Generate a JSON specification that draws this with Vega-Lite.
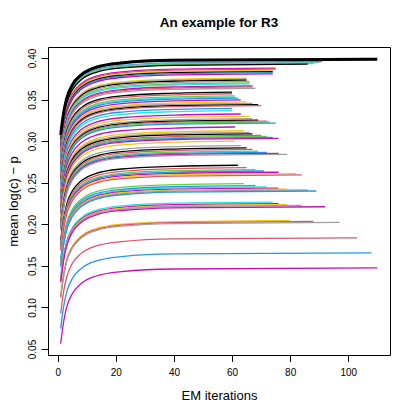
{
"$schema": "https://vega.github.io/schema/vega-lite/v6.json",
"width": 342, "height": 308,
"autosize": "none",
"padding": {"left": 48, "top": 47, "right": 25, "bottom": 60},
"background": "white",
"config": {"view": {"stroke": "black", "strokeWidth": 1}, "font": "Liberation Sans"},
"title": {"text": "An example for R3", "font": "Liberation Sans", "fontSize": 13.5, "fontWeight": "bold", "anchor": "middle", "frame": "group", "baseline": "alphabetic", "offset": 7, "color": "black"},
"data": {"values": [
{"r":1,"x":1,"y":0.3075},{"r":1,"x":2,"y":0.3335},{"r":1,"x":3,"y":0.3505},{"r":1,"x":5,"y":0.3675},{"r":1,"x":8,"y":0.3795},{"r":1,"x":13,"y":0.3885},{"r":1,"x":22,"y":0.3940},{"r":1,"x":40,"y":0.3972},{"r":1,"x":110,"y":0.3985},
{"r":2,"x":1,"y":0.3085},{"r":2,"x":2,"y":0.3345},{"r":2,"x":3,"y":0.3515},{"r":2,"x":5,"y":0.3685},{"r":2,"x":8,"y":0.3805},{"r":2,"x":13,"y":0.3895},{"r":2,"x":22,"y":0.3950},{"r":2,"x":40,"y":0.3982},{"r":2,"x":109,"y":0.3995},
{"r":3,"x":1,"y":0.3045},{"r":3,"x":2,"y":0.3305},{"r":3,"x":3,"y":0.3475},{"r":3,"x":5,"y":0.3645},{"r":3,"x":8,"y":0.3765},{"r":3,"x":13,"y":0.3855},{"r":3,"x":22,"y":0.3910},{"r":3,"x":40,"y":0.3942},{"r":3,"x":91,"y":0.3955},
{"r":4,"x":1,"y":0.3038},{"r":4,"x":2,"y":0.3298},{"r":4,"x":3,"y":0.3468},{"r":4,"x":5,"y":0.3638},{"r":4,"x":8,"y":0.3758},{"r":4,"x":13,"y":0.3848},{"r":4,"x":22,"y":0.3903},{"r":4,"x":40,"y":0.3935},{"r":4,"x":90,"y":0.3948},
{"r":5,"x":1,"y":0.3030},{"r":5,"x":2,"y":0.3290},{"r":5,"x":3,"y":0.3460},{"r":5,"x":5,"y":0.3630},{"r":5,"x":8,"y":0.3750},{"r":5,"x":13,"y":0.3840},{"r":5,"x":22,"y":0.3895},{"r":5,"x":40,"y":0.3927},{"r":5,"x":89,"y":0.3940},
{"r":6,"x":1,"y":0.3023},{"r":6,"x":2,"y":0.3283},{"r":6,"x":3,"y":0.3453},{"r":6,"x":5,"y":0.3623},{"r":6,"x":8,"y":0.3743},{"r":6,"x":13,"y":0.3833},{"r":6,"x":22,"y":0.3888},{"r":6,"x":40,"y":0.3920},{"r":6,"x":88,"y":0.3933},
{"r":7,"x":1,"y":0.3015},{"r":7,"x":2,"y":0.3275},{"r":7,"x":3,"y":0.3445},{"r":7,"x":5,"y":0.3615},{"r":7,"x":8,"y":0.3735},{"r":7,"x":13,"y":0.3825},{"r":7,"x":22,"y":0.3880},{"r":7,"x":40,"y":0.3912},{"r":7,"x":86,"y":0.3925},
{"r":8,"x":1,"y":0.2968},{"r":8,"x":2,"y":0.3228},{"r":8,"x":3,"y":0.3398},{"r":8,"x":5,"y":0.3568},{"r":8,"x":8,"y":0.3688},{"r":8,"x":13,"y":0.3778},{"r":8,"x":22,"y":0.3833},{"r":8,"x":40,"y":0.3865},{"r":8,"x":75,"y":0.3878},
{"r":9,"x":1,"y":0.2956},{"r":9,"x":2,"y":0.3216},{"r":9,"x":3,"y":0.3386},{"r":9,"x":5,"y":0.3556},{"r":9,"x":8,"y":0.3676},{"r":9,"x":13,"y":0.3766},{"r":9,"x":22,"y":0.3821},{"r":9,"x":40,"y":0.3853},{"r":9,"x":75,"y":0.3866},
{"r":10,"x":1,"y":0.2940},{"r":10,"x":2,"y":0.3200},{"r":10,"x":3,"y":0.3370},{"r":10,"x":5,"y":0.3540},{"r":10,"x":8,"y":0.3660},{"r":10,"x":13,"y":0.3750},{"r":10,"x":22,"y":0.3805},{"r":10,"x":40,"y":0.3837},{"r":10,"x":74,"y":0.3850},
{"r":11,"x":1,"y":0.2927},{"r":11,"x":2,"y":0.3187},{"r":11,"x":3,"y":0.3357},{"r":11,"x":5,"y":0.3527},{"r":11,"x":8,"y":0.3647},{"r":11,"x":13,"y":0.3737},{"r":11,"x":22,"y":0.3792},{"r":11,"x":40,"y":0.3824},{"r":11,"x":74,"y":0.3837},
{"r":12,"x":1,"y":0.2915},{"r":12,"x":2,"y":0.3175},{"r":12,"x":3,"y":0.3345},{"r":12,"x":5,"y":0.3515},{"r":12,"x":8,"y":0.3635},{"r":12,"x":13,"y":0.3725},{"r":12,"x":22,"y":0.3780},{"r":12,"x":40,"y":0.3812},{"r":12,"x":74,"y":0.3825},
{"r":13,"x":1,"y":0.2900},{"r":13,"x":2,"y":0.3160},{"r":13,"x":3,"y":0.3330},{"r":13,"x":5,"y":0.3500},{"r":13,"x":8,"y":0.3620},{"r":13,"x":13,"y":0.3710},{"r":13,"x":22,"y":0.3765},{"r":13,"x":40,"y":0.3797},{"r":13,"x":74,"y":0.3810},
{"r":14,"x":1,"y":0.2847},{"r":14,"x":2,"y":0.3107},{"r":14,"x":3,"y":0.3277},{"r":14,"x":5,"y":0.3447},{"r":14,"x":8,"y":0.3567},{"r":14,"x":13,"y":0.3657},{"r":14,"x":22,"y":0.3712},{"r":14,"x":40,"y":0.3744},{"r":14,"x":65,"y":0.3757},
{"r":15,"x":1,"y":0.2835},{"r":15,"x":2,"y":0.3095},{"r":15,"x":3,"y":0.3265},{"r":15,"x":5,"y":0.3435},{"r":15,"x":8,"y":0.3555},{"r":15,"x":13,"y":0.3645},{"r":15,"x":22,"y":0.3700},{"r":15,"x":40,"y":0.3732},{"r":15,"x":65,"y":0.3745},
{"r":16,"x":1,"y":0.2823},{"r":16,"x":2,"y":0.3083},{"r":16,"x":3,"y":0.3253},{"r":16,"x":5,"y":0.3423},{"r":16,"x":8,"y":0.3543},{"r":16,"x":13,"y":0.3633},{"r":16,"x":22,"y":0.3688},{"r":16,"x":40,"y":0.3720},{"r":16,"x":65,"y":0.3733},
{"r":17,"x":1,"y":0.2808},{"r":17,"x":2,"y":0.3068},{"r":17,"x":3,"y":0.3238},{"r":17,"x":5,"y":0.3408},{"r":17,"x":8,"y":0.3528},{"r":17,"x":13,"y":0.3618},{"r":17,"x":22,"y":0.3673},{"r":17,"x":40,"y":0.3705},{"r":17,"x":66,"y":0.3718},
{"r":18,"x":1,"y":0.2790},{"r":18,"x":2,"y":0.3050},{"r":18,"x":3,"y":0.3220},{"r":18,"x":5,"y":0.3390},{"r":18,"x":8,"y":0.3510},{"r":18,"x":13,"y":0.3600},{"r":18,"x":22,"y":0.3655},{"r":18,"x":40,"y":0.3687},{"r":18,"x":66,"y":0.3700},
{"r":19,"x":1,"y":0.2778},{"r":19,"x":2,"y":0.3038},{"r":19,"x":3,"y":0.3208},{"r":19,"x":5,"y":0.3378},{"r":19,"x":8,"y":0.3498},{"r":19,"x":13,"y":0.3588},{"r":19,"x":22,"y":0.3643},{"r":19,"x":40,"y":0.3675},{"r":19,"x":66,"y":0.3688},
{"r":20,"x":1,"y":0.2755},{"r":20,"x":2,"y":0.3015},{"r":20,"x":3,"y":0.3185},{"r":20,"x":5,"y":0.3355},{"r":20,"x":8,"y":0.3475},{"r":20,"x":13,"y":0.3565},{"r":20,"x":22,"y":0.3620},{"r":20,"x":40,"y":0.3652},{"r":20,"x":67,"y":0.3665},
{"r":21,"x":1,"y":0.2742},{"r":21,"x":2,"y":0.3002},{"r":21,"x":3,"y":0.3172},{"r":21,"x":5,"y":0.3342},{"r":21,"x":8,"y":0.3462},{"r":21,"x":13,"y":0.3552},{"r":21,"x":22,"y":0.3607},{"r":21,"x":40,"y":0.3639},{"r":21,"x":67,"y":0.3652},
{"r":22,"x":1,"y":0.2726},{"r":22,"x":2,"y":0.2986},{"r":22,"x":3,"y":0.3156},{"r":22,"x":5,"y":0.3326},{"r":22,"x":8,"y":0.3446},{"r":22,"x":13,"y":0.3536},{"r":22,"x":22,"y":0.3591},{"r":22,"x":40,"y":0.3623},{"r":22,"x":68,"y":0.3636},
{"r":23,"x":1,"y":0.2680},{"r":23,"x":2,"y":0.2940},{"r":23,"x":3,"y":0.3110},{"r":23,"x":5,"y":0.3280},{"r":23,"x":8,"y":0.3400},{"r":23,"x":13,"y":0.3490},{"r":23,"x":22,"y":0.3545},{"r":23,"x":40,"y":0.3577},{"r":23,"x":60,"y":0.3590},
{"r":24,"x":1,"y":0.2660},{"r":24,"x":2,"y":0.2920},{"r":24,"x":3,"y":0.3090},{"r":24,"x":5,"y":0.3260},{"r":24,"x":8,"y":0.3380},{"r":24,"x":13,"y":0.3470},{"r":24,"x":22,"y":0.3525},{"r":24,"x":40,"y":0.3557},{"r":24,"x":60,"y":0.3570},
{"r":25,"x":1,"y":0.2635},{"r":25,"x":2,"y":0.2895},{"r":25,"x":3,"y":0.3065},{"r":25,"x":5,"y":0.3235},{"r":25,"x":8,"y":0.3355},{"r":25,"x":13,"y":0.3445},{"r":25,"x":22,"y":0.3500},{"r":25,"x":40,"y":0.3532},{"r":25,"x":61,"y":0.3545},
{"r":26,"x":1,"y":0.2620},{"r":26,"x":2,"y":0.2880},{"r":26,"x":3,"y":0.3050},{"r":26,"x":5,"y":0.3220},{"r":26,"x":8,"y":0.3340},{"r":26,"x":13,"y":0.3430},{"r":26,"x":22,"y":0.3485},{"r":26,"x":40,"y":0.3517},{"r":26,"x":61,"y":0.3530},
{"r":27,"x":1,"y":0.2608},{"r":27,"x":2,"y":0.2868},{"r":27,"x":3,"y":0.3038},{"r":27,"x":5,"y":0.3208},{"r":27,"x":8,"y":0.3328},{"r":27,"x":13,"y":0.3418},{"r":27,"x":22,"y":0.3473},{"r":27,"x":40,"y":0.3505},{"r":27,"x":62,"y":0.3518},
{"r":28,"x":1,"y":0.2587},{"r":28,"x":2,"y":0.2847},{"r":28,"x":3,"y":0.3017},{"r":28,"x":5,"y":0.3187},{"r":28,"x":8,"y":0.3307},{"r":28,"x":13,"y":0.3397},{"r":28,"x":22,"y":0.3452},{"r":28,"x":40,"y":0.3484},{"r":28,"x":63,"y":0.3497},
{"r":29,"x":1,"y":0.2562},{"r":29,"x":2,"y":0.2822},{"r":29,"x":3,"y":0.2992},{"r":29,"x":5,"y":0.3162},{"r":29,"x":8,"y":0.3282},{"r":29,"x":13,"y":0.3372},{"r":29,"x":22,"y":0.3427},{"r":29,"x":40,"y":0.3459},{"r":29,"x":65,"y":0.3472},
{"r":30,"x":1,"y":0.2545},{"r":30,"x":2,"y":0.2805},{"r":30,"x":3,"y":0.2975},{"r":30,"x":5,"y":0.3145},{"r":30,"x":8,"y":0.3265},{"r":30,"x":13,"y":0.3355},{"r":30,"x":22,"y":0.3410},{"r":30,"x":40,"y":0.3442},{"r":30,"x":67,"y":0.3455},
{"r":31,"x":1,"y":0.2530},{"r":31,"x":2,"y":0.2790},{"r":31,"x":3,"y":0.2960},{"r":31,"x":5,"y":0.3130},{"r":31,"x":8,"y":0.3250},{"r":31,"x":13,"y":0.3340},{"r":31,"x":22,"y":0.3395},{"r":31,"x":40,"y":0.3427},{"r":31,"x":69,"y":0.3440},
{"r":32,"x":1,"y":0.2517},{"r":32,"x":2,"y":0.2777},{"r":32,"x":3,"y":0.2947},{"r":32,"x":5,"y":0.3117},{"r":32,"x":8,"y":0.3237},{"r":32,"x":13,"y":0.3327},{"r":32,"x":22,"y":0.3382},{"r":32,"x":40,"y":0.3414},{"r":32,"x":70,"y":0.3427},
{"r":33,"x":1,"y":0.2485},{"r":33,"x":2,"y":0.2745},{"r":33,"x":3,"y":0.2915},{"r":33,"x":5,"y":0.3085},{"r":33,"x":8,"y":0.3205},{"r":33,"x":13,"y":0.3295},{"r":33,"x":22,"y":0.3350},{"r":33,"x":40,"y":0.3382},{"r":33,"x":60,"y":0.3395},
{"r":34,"x":1,"y":0.2457},{"r":34,"x":2,"y":0.2717},{"r":34,"x":3,"y":0.2887},{"r":34,"x":5,"y":0.3057},{"r":34,"x":8,"y":0.3177},{"r":34,"x":13,"y":0.3267},{"r":34,"x":22,"y":0.3322},{"r":34,"x":40,"y":0.3354},{"r":34,"x":60,"y":0.3367},
{"r":35,"x":1,"y":0.2416},{"r":35,"x":2,"y":0.2676},{"r":35,"x":3,"y":0.2846},{"r":35,"x":5,"y":0.3016},{"r":35,"x":8,"y":0.3136},{"r":35,"x":13,"y":0.3226},{"r":35,"x":22,"y":0.3281},{"r":35,"x":40,"y":0.3313},{"r":35,"x":63,"y":0.3326},
{"r":36,"x":1,"y":0.2388},{"r":36,"x":2,"y":0.2648},{"r":36,"x":3,"y":0.2818},{"r":36,"x":5,"y":0.2988},{"r":36,"x":8,"y":0.3108},{"r":36,"x":13,"y":0.3198},{"r":36,"x":22,"y":0.3253},{"r":36,"x":40,"y":0.3285},{"r":36,"x":66,"y":0.3298},
{"r":37,"x":1,"y":0.2360},{"r":37,"x":2,"y":0.2620},{"r":37,"x":3,"y":0.2790},{"r":37,"x":5,"y":0.2960},{"r":37,"x":8,"y":0.3080},{"r":37,"x":13,"y":0.3170},{"r":37,"x":22,"y":0.3225},{"r":37,"x":40,"y":0.3257},{"r":37,"x":67,"y":0.3270},
{"r":38,"x":1,"y":0.2343},{"r":38,"x":2,"y":0.2603},{"r":38,"x":3,"y":0.2773},{"r":38,"x":5,"y":0.2943},{"r":38,"x":8,"y":0.3063},{"r":38,"x":13,"y":0.3153},{"r":38,"x":22,"y":0.3208},{"r":38,"x":40,"y":0.3240},{"r":38,"x":69,"y":0.3253},
{"r":39,"x":1,"y":0.2331},{"r":39,"x":2,"y":0.2591},{"r":39,"x":3,"y":0.2761},{"r":39,"x":5,"y":0.2931},{"r":39,"x":8,"y":0.3051},{"r":39,"x":13,"y":0.3141},{"r":39,"x":22,"y":0.3196},{"r":39,"x":40,"y":0.3228},{"r":39,"x":72,"y":0.3241},
{"r":40,"x":1,"y":0.2320},{"r":40,"x":2,"y":0.2580},{"r":40,"x":3,"y":0.2750},{"r":40,"x":5,"y":0.2920},{"r":40,"x":8,"y":0.3040},{"r":40,"x":13,"y":0.3130},{"r":40,"x":22,"y":0.3185},{"r":40,"x":40,"y":0.3217},{"r":40,"x":73,"y":0.3230},
{"r":41,"x":1,"y":0.2307},{"r":41,"x":2,"y":0.2567},{"r":41,"x":3,"y":0.2737},{"r":41,"x":5,"y":0.2907},{"r":41,"x":8,"y":0.3027},{"r":41,"x":13,"y":0.3117},{"r":41,"x":22,"y":0.3172},{"r":41,"x":40,"y":0.3204},{"r":41,"x":75,"y":0.3217},
{"r":42,"x":1,"y":0.2260},{"r":42,"x":2,"y":0.2520},{"r":42,"x":3,"y":0.2690},{"r":42,"x":5,"y":0.2860},{"r":42,"x":8,"y":0.2980},{"r":42,"x":13,"y":0.3070},{"r":42,"x":22,"y":0.3125},{"r":42,"x":40,"y":0.3157},{"r":42,"x":61,"y":0.3170},
{"r":43,"x":1,"y":0.2215},{"r":43,"x":2,"y":0.2475},{"r":43,"x":3,"y":0.2645},{"r":43,"x":5,"y":0.2815},{"r":43,"x":8,"y":0.2935},{"r":43,"x":13,"y":0.3025},{"r":43,"x":22,"y":0.3080},{"r":43,"x":40,"y":0.3112},{"r":43,"x":64,"y":0.3125},
{"r":44,"x":1,"y":0.2195},{"r":44,"x":2,"y":0.2455},{"r":44,"x":3,"y":0.2625},{"r":44,"x":5,"y":0.2795},{"r":44,"x":8,"y":0.2915},{"r":44,"x":13,"y":0.3005},{"r":44,"x":22,"y":0.3060},{"r":44,"x":40,"y":0.3092},{"r":44,"x":66,"y":0.3105},
{"r":45,"x":1,"y":0.2178},{"r":45,"x":2,"y":0.2438},{"r":45,"x":3,"y":0.2608},{"r":45,"x":5,"y":0.2778},{"r":45,"x":8,"y":0.2898},{"r":45,"x":13,"y":0.2988},{"r":45,"x":22,"y":0.3043},{"r":45,"x":40,"y":0.3075},{"r":45,"x":67,"y":0.3088},
{"r":46,"x":1,"y":0.2158},{"r":46,"x":2,"y":0.2418},{"r":46,"x":3,"y":0.2588},{"r":46,"x":5,"y":0.2758},{"r":46,"x":8,"y":0.2878},{"r":46,"x":13,"y":0.2968},{"r":46,"x":22,"y":0.3023},{"r":46,"x":40,"y":0.3055},{"r":46,"x":70,"y":0.3068},
{"r":47,"x":1,"y":0.2146},{"r":47,"x":2,"y":0.2406},{"r":47,"x":3,"y":0.2576},{"r":47,"x":5,"y":0.2746},{"r":47,"x":8,"y":0.2866},{"r":47,"x":13,"y":0.2956},{"r":47,"x":22,"y":0.3011},{"r":47,"x":40,"y":0.3043},{"r":47,"x":72,"y":0.3056},
{"r":48,"x":1,"y":0.2134},{"r":48,"x":2,"y":0.2394},{"r":48,"x":3,"y":0.2564},{"r":48,"x":5,"y":0.2734},{"r":48,"x":8,"y":0.2854},{"r":48,"x":13,"y":0.2944},{"r":48,"x":22,"y":0.2999},{"r":48,"x":40,"y":0.3031},{"r":48,"x":74,"y":0.3044},
{"r":49,"x":1,"y":0.2122},{"r":49,"x":2,"y":0.2382},{"r":49,"x":3,"y":0.2552},{"r":49,"x":5,"y":0.2722},{"r":49,"x":8,"y":0.2842},{"r":49,"x":13,"y":0.2932},{"r":49,"x":22,"y":0.2987},{"r":49,"x":40,"y":0.3019},{"r":49,"x":76,"y":0.3032},
{"r":50,"x":1,"y":0.2090},{"r":50,"x":2,"y":0.2350},{"r":50,"x":3,"y":0.2520},{"r":50,"x":5,"y":0.2690},{"r":50,"x":8,"y":0.2810},{"r":50,"x":13,"y":0.2900},{"r":50,"x":22,"y":0.2955},{"r":50,"x":40,"y":0.2987},{"r":50,"x":61,"y":0.3000},
{"r":51,"x":1,"y":0.2036},{"r":51,"x":2,"y":0.2296},{"r":51,"x":3,"y":0.2466},{"r":51,"x":5,"y":0.2636},{"r":51,"x":8,"y":0.2756},{"r":51,"x":13,"y":0.2846},{"r":51,"x":22,"y":0.2901},{"r":51,"x":40,"y":0.2933},{"r":51,"x":63,"y":0.2946},
{"r":52,"x":1,"y":0.2008},{"r":52,"x":2,"y":0.2268},{"r":52,"x":3,"y":0.2438},{"r":52,"x":5,"y":0.2608},{"r":52,"x":8,"y":0.2728},{"r":52,"x":13,"y":0.2818},{"r":52,"x":22,"y":0.2873},{"r":52,"x":40,"y":0.2905},{"r":52,"x":65,"y":0.2918},
{"r":53,"x":1,"y":0.1990},{"r":53,"x":2,"y":0.2250},{"r":53,"x":3,"y":0.2420},{"r":53,"x":5,"y":0.2590},{"r":53,"x":8,"y":0.2710},{"r":53,"x":13,"y":0.2800},{"r":53,"x":22,"y":0.2855},{"r":53,"x":40,"y":0.2887},{"r":53,"x":67,"y":0.2900},
{"r":54,"x":1,"y":0.1970},{"r":54,"x":2,"y":0.2230},{"r":54,"x":3,"y":0.2400},{"r":54,"x":5,"y":0.2570},{"r":54,"x":8,"y":0.2690},{"r":54,"x":13,"y":0.2780},{"r":54,"x":22,"y":0.2835},{"r":54,"x":40,"y":0.2867},{"r":54,"x":69,"y":0.2880},
{"r":55,"x":1,"y":0.1955},{"r":55,"x":2,"y":0.2215},{"r":55,"x":3,"y":0.2385},{"r":55,"x":5,"y":0.2555},{"r":55,"x":8,"y":0.2675},{"r":55,"x":13,"y":0.2765},{"r":55,"x":22,"y":0.2820},{"r":55,"x":40,"y":0.2852},{"r":55,"x":72,"y":0.2865},
{"r":56,"x":1,"y":0.1942},{"r":56,"x":2,"y":0.2202},{"r":56,"x":3,"y":0.2372},{"r":56,"x":5,"y":0.2542},{"r":56,"x":8,"y":0.2662},{"r":56,"x":13,"y":0.2752},{"r":56,"x":22,"y":0.2807},{"r":56,"x":40,"y":0.2839},{"r":56,"x":76,"y":0.2852},
{"r":57,"x":1,"y":0.1930},{"r":57,"x":2,"y":0.2190},{"r":57,"x":3,"y":0.2360},{"r":57,"x":5,"y":0.2530},{"r":57,"x":8,"y":0.2650},{"r":57,"x":13,"y":0.2740},{"r":57,"x":22,"y":0.2795},{"r":57,"x":40,"y":0.2827},{"r":57,"x":79,"y":0.2840},
{"r":58,"x":1,"y":0.1800},{"r":58,"x":2,"y":0.2060},{"r":58,"x":3,"y":0.2230},{"r":58,"x":5,"y":0.2400},{"r":58,"x":8,"y":0.2520},{"r":58,"x":13,"y":0.2610},{"r":58,"x":22,"y":0.2665},{"r":58,"x":40,"y":0.2697},{"r":58,"x":62,"y":0.2710},
{"r":59,"x":1,"y":0.1772},{"r":59,"x":2,"y":0.2032},{"r":59,"x":3,"y":0.2202},{"r":59,"x":5,"y":0.2372},{"r":59,"x":8,"y":0.2492},{"r":59,"x":13,"y":0.2582},{"r":59,"x":22,"y":0.2637},{"r":59,"x":40,"y":0.2669},{"r":59,"x":65,"y":0.2682},
{"r":60,"x":1,"y":0.1748},{"r":60,"x":2,"y":0.2008},{"r":60,"x":3,"y":0.2178},{"r":60,"x":5,"y":0.2348},{"r":60,"x":8,"y":0.2468},{"r":60,"x":13,"y":0.2558},{"r":60,"x":22,"y":0.2613},{"r":60,"x":40,"y":0.2645},{"r":60,"x":68,"y":0.2658},
{"r":61,"x":1,"y":0.1731},{"r":61,"x":2,"y":0.1991},{"r":61,"x":3,"y":0.2161},{"r":61,"x":5,"y":0.2331},{"r":61,"x":8,"y":0.2451},{"r":61,"x":13,"y":0.2541},{"r":61,"x":22,"y":0.2596},{"r":61,"x":40,"y":0.2628},{"r":61,"x":71,"y":0.2641},
{"r":62,"x":1,"y":0.1716},{"r":62,"x":2,"y":0.1976},{"r":62,"x":3,"y":0.2146},{"r":62,"x":5,"y":0.2316},{"r":62,"x":8,"y":0.2436},{"r":62,"x":13,"y":0.2526},{"r":62,"x":22,"y":0.2581},{"r":62,"x":40,"y":0.2613},{"r":62,"x":76,"y":0.2626},
{"r":63,"x":1,"y":0.1700},{"r":63,"x":2,"y":0.1960},{"r":63,"x":3,"y":0.2130},{"r":63,"x":5,"y":0.2300},{"r":63,"x":8,"y":0.2420},{"r":63,"x":13,"y":0.2510},{"r":63,"x":22,"y":0.2565},{"r":63,"x":40,"y":0.2597},{"r":63,"x":82,"y":0.2610},
{"r":64,"x":1,"y":0.1683},{"r":64,"x":2,"y":0.1943},{"r":64,"x":3,"y":0.2113},{"r":64,"x":5,"y":0.2283},{"r":64,"x":8,"y":0.2403},{"r":64,"x":13,"y":0.2493},{"r":64,"x":22,"y":0.2548},{"r":64,"x":40,"y":0.2580},{"r":64,"x":84,"y":0.2593},
{"r":65,"x":1,"y":0.1579},{"r":65,"x":2,"y":0.1839},{"r":65,"x":3,"y":0.2009},{"r":65,"x":5,"y":0.2179},{"r":65,"x":8,"y":0.2299},{"r":65,"x":13,"y":0.2389},{"r":65,"x":22,"y":0.2444},{"r":65,"x":40,"y":0.2476},{"r":65,"x":64,"y":0.2489},
{"r":66,"x":1,"y":0.1555},{"r":66,"x":2,"y":0.1815},{"r":66,"x":3,"y":0.1985},{"r":66,"x":5,"y":0.2155},{"r":66,"x":8,"y":0.2275},{"r":66,"x":13,"y":0.2365},{"r":66,"x":22,"y":0.2420},{"r":66,"x":40,"y":0.2452},{"r":66,"x":68,"y":0.2465},
{"r":67,"x":1,"y":0.1540},{"r":67,"x":2,"y":0.1800},{"r":67,"x":3,"y":0.1970},{"r":67,"x":5,"y":0.2140},{"r":67,"x":8,"y":0.2260},{"r":67,"x":13,"y":0.2350},{"r":67,"x":22,"y":0.2405},{"r":67,"x":40,"y":0.2437},{"r":67,"x":72,"y":0.2450},
{"r":68,"x":1,"y":0.1526},{"r":68,"x":2,"y":0.1786},{"r":68,"x":3,"y":0.1956},{"r":68,"x":5,"y":0.2126},{"r":68,"x":8,"y":0.2246},{"r":68,"x":13,"y":0.2336},{"r":68,"x":22,"y":0.2391},{"r":68,"x":40,"y":0.2423},{"r":68,"x":76,"y":0.2436},
{"r":69,"x":1,"y":0.1514},{"r":69,"x":2,"y":0.1774},{"r":69,"x":3,"y":0.1944},{"r":69,"x":5,"y":0.2114},{"r":69,"x":8,"y":0.2234},{"r":69,"x":13,"y":0.2324},{"r":69,"x":22,"y":0.2379},{"r":69,"x":40,"y":0.2411},{"r":69,"x":79,"y":0.2424},
{"r":70,"x":1,"y":0.1502},{"r":70,"x":2,"y":0.1762},{"r":70,"x":3,"y":0.1932},{"r":70,"x":5,"y":0.2102},{"r":70,"x":8,"y":0.2222},{"r":70,"x":13,"y":0.2312},{"r":70,"x":22,"y":0.2367},{"r":70,"x":40,"y":0.2399},{"r":70,"x":86,"y":0.2412},
{"r":71,"x":1,"y":0.1490},{"r":71,"x":2,"y":0.1750},{"r":71,"x":3,"y":0.1920},{"r":71,"x":5,"y":0.2090},{"r":71,"x":8,"y":0.2210},{"r":71,"x":13,"y":0.2300},{"r":71,"x":22,"y":0.2355},{"r":71,"x":40,"y":0.2387},{"r":71,"x":89,"y":0.2400},
{"r":72,"x":1,"y":0.1357},{"r":72,"x":2,"y":0.1617},{"r":72,"x":3,"y":0.1787},{"r":72,"x":5,"y":0.1957},{"r":72,"x":8,"y":0.2077},{"r":72,"x":13,"y":0.2167},{"r":72,"x":22,"y":0.2222},{"r":72,"x":40,"y":0.2254},{"r":72,"x":74,"y":0.2267},
{"r":73,"x":1,"y":0.1338},{"r":73,"x":2,"y":0.1598},{"r":73,"x":3,"y":0.1768},{"r":73,"x":5,"y":0.1938},{"r":73,"x":8,"y":0.2058},{"r":73,"x":13,"y":0.2148},{"r":73,"x":22,"y":0.2203},{"r":73,"x":40,"y":0.2235},{"r":73,"x":76,"y":0.2248},
{"r":74,"x":1,"y":0.1326},{"r":74,"x":2,"y":0.1586},{"r":74,"x":3,"y":0.1756},{"r":74,"x":5,"y":0.1926},{"r":74,"x":8,"y":0.2046},{"r":74,"x":13,"y":0.2136},{"r":74,"x":22,"y":0.2191},{"r":74,"x":40,"y":0.2223},{"r":74,"x":79,"y":0.2236},
{"r":75,"x":1,"y":0.1317},{"r":75,"x":2,"y":0.1577},{"r":75,"x":3,"y":0.1747},{"r":75,"x":5,"y":0.1917},{"r":75,"x":8,"y":0.2037},{"r":75,"x":13,"y":0.2127},{"r":75,"x":22,"y":0.2182},{"r":75,"x":40,"y":0.2214},{"r":75,"x":84,"y":0.2227},
{"r":76,"x":1,"y":0.1301},{"r":76,"x":2,"y":0.1561},{"r":76,"x":3,"y":0.1731},{"r":76,"x":5,"y":0.1901},{"r":76,"x":8,"y":0.2021},{"r":76,"x":13,"y":0.2111},{"r":76,"x":22,"y":0.2166},{"r":76,"x":40,"y":0.2198},{"r":76,"x":92,"y":0.2211},
{"r":77,"x":1,"y":0.1136},{"r":77,"x":2,"y":0.1396},{"r":77,"x":3,"y":0.1566},{"r":77,"x":5,"y":0.1736},{"r":77,"x":8,"y":0.1856},{"r":77,"x":13,"y":0.1946},{"r":77,"x":22,"y":0.2001},{"r":77,"x":40,"y":0.2033},{"r":77,"x":80,"y":0.2046},
{"r":78,"x":1,"y":0.1124},{"r":78,"x":2,"y":0.1384},{"r":78,"x":3,"y":0.1554},{"r":78,"x":5,"y":0.1724},{"r":78,"x":8,"y":0.1844},{"r":78,"x":13,"y":0.1934},{"r":78,"x":22,"y":0.1989},{"r":78,"x":40,"y":0.2021},{"r":78,"x":88,"y":0.2034},
{"r":79,"x":1,"y":0.1112},{"r":79,"x":2,"y":0.1372},{"r":79,"x":3,"y":0.1542},{"r":79,"x":5,"y":0.1712},{"r":79,"x":8,"y":0.1832},{"r":79,"x":13,"y":0.1922},{"r":79,"x":22,"y":0.1977},{"r":79,"x":40,"y":0.2009},{"r":79,"x":97,"y":0.2022},
{"r":80,"x":1,"y":0.0927},{"r":80,"x":2,"y":0.1187},{"r":80,"x":3,"y":0.1357},{"r":80,"x":5,"y":0.1527},{"r":80,"x":8,"y":0.1647},{"r":80,"x":13,"y":0.1737},{"r":80,"x":22,"y":0.1792},{"r":80,"x":40,"y":0.1824},{"r":80,"x":103,"y":0.1837},
{"r":81,"x":1,"y":0.0746},{"r":81,"x":2,"y":0.1006},{"r":81,"x":3,"y":0.1176},{"r":81,"x":5,"y":0.1346},{"r":81,"x":8,"y":0.1466},{"r":81,"x":13,"y":0.1556},{"r":81,"x":22,"y":0.1611},{"r":81,"x":40,"y":0.1643},{"r":81,"x":108,"y":0.1656},
{"r":82,"x":1,"y":0.0565},{"r":82,"x":2,"y":0.0825},{"r":82,"x":3,"y":0.0995},{"r":82,"x":5,"y":0.1165},{"r":82,"x":8,"y":0.1285},{"r":82,"x":13,"y":0.1375},{"r":82,"x":22,"y":0.1430},{"r":82,"x":40,"y":0.1462},{"r":82,"x":110,"y":0.1475}
]},
"encoding": {
  "x": {"field": "x", "type": "quantitative", "scale": {"domain": [-3.36, 114.36], "nice": false, "zero": false},
        "axis": {"title": "EM iterations", "values": [0, 20, 40, 60, 80, 100], "grid": false, "domain": false, "tickSize": 6.5, "tickColor": "black", "labelColor": "black", "labelFontSize": 10, "labelPadding": 6, "labelFont": "Liberation Sans", "titleFont": "Liberation Sans", "titleFontSize": 13, "titleFontWeight": "normal", "titleColor": "black", "titlePadding": 12}},
  "y": {"field": "y", "type": "quantitative", "scale": {"domain": [0.0428, 0.4132], "nice": false, "zero": false},
        "axis": {"title": "mean log(c) − p", "values": [0.05, 0.1, 0.15, 0.2, 0.25, 0.3, 0.35, 0.4], "format": ".2f", "grid": false, "domain": false, "tickSize": 7, "tickColor": "black", "labelColor": "black", "labelFontSize": 10, "labelAngle": 270, "labelAlign": "center", "labelBaseline": "bottom", "labelPadding": 4, "labelFont": "Liberation Sans", "titleFont": "Liberation Sans", "titleFontSize": 13, "titleFontWeight": "normal", "titleColor": "black", "titlePadding": 7}}
},
"layer": [
  {"transform": [{"filter": "datum.r != 1"}],
   "mark": {"type": "line", "interpolate": "monotone", "strokeWidth": 1.3, "clip": true},
   "encoding": {"color": {"field": "r", "type": "nominal", "legend": null,
     "scale": {"domain": [2,3,4,5,6,7,8,9,10,11,12,13,14,15,16,17,18,19,20,21,22,23,24,25,26,27,28,29,30,31,32,33,34,35,36,37,38,39,40,41,42,43,44,45,46,47,48,49,50,51,52,53,54,55,56,57,58,59,60,61,62,63,64,65,66,67,68,69,70,71,72,73,74,75,76,77,78,79,80,81,82],
     "range": ["#9E9E9E","#2297E6","#9E9E9E","#28E2E5","#61D04F","#000000","#CD0BBC","#DF536B","#F5C710","#000000","#2297E6","#CD0BBC","#F5C710","#9E9E9E","#000000","#9E9E9E","#61D04F","#28E2E5","#CD0BBC","#DF536B","#9E9E9E","#000000","#DF536B","#61D04F","#28E2E5","#2297E6","#CD0BBC","#F5C710","#9E9E9E","#000000","#DF536B","#2297E6","#28E2E5","#CD0BBC","#F5C710","#9E9E9E","#000000","#DF536B","#61D04F","#2297E6","#CD0BBC","#F5C710","#9E9E9E","#000000","#DF536B","#61D04F","#2297E6","#CD0BBC","#F5C710","#9E9E9E","#000000","#DF536B","#61D04F","#2297E6","#CD0BBC","#9E9E9E","#000000","#DF536B","#61D04F","#2297E6","#CD0BBC","#F5C710","#DF536B","#61D04F","#2297E6","#28E2E5","#CD0BBC","#F5C710","#9E9E9E","#2297E6","#28E2E5","#CD0BBC","#F5C710","#9E9E9E","#CD0BBC","#F5C710","#DF536B","#9E9E9E","#DF536B","#2297E6","#CD0BBC"]}}}},
  {"transform": [{"filter": "datum.r == 1"}],
   "mark": {"type": "line", "interpolate": "monotone", "strokeWidth": 3, "color": "black", "clip": true},
   "encoding": {}}
]
}
